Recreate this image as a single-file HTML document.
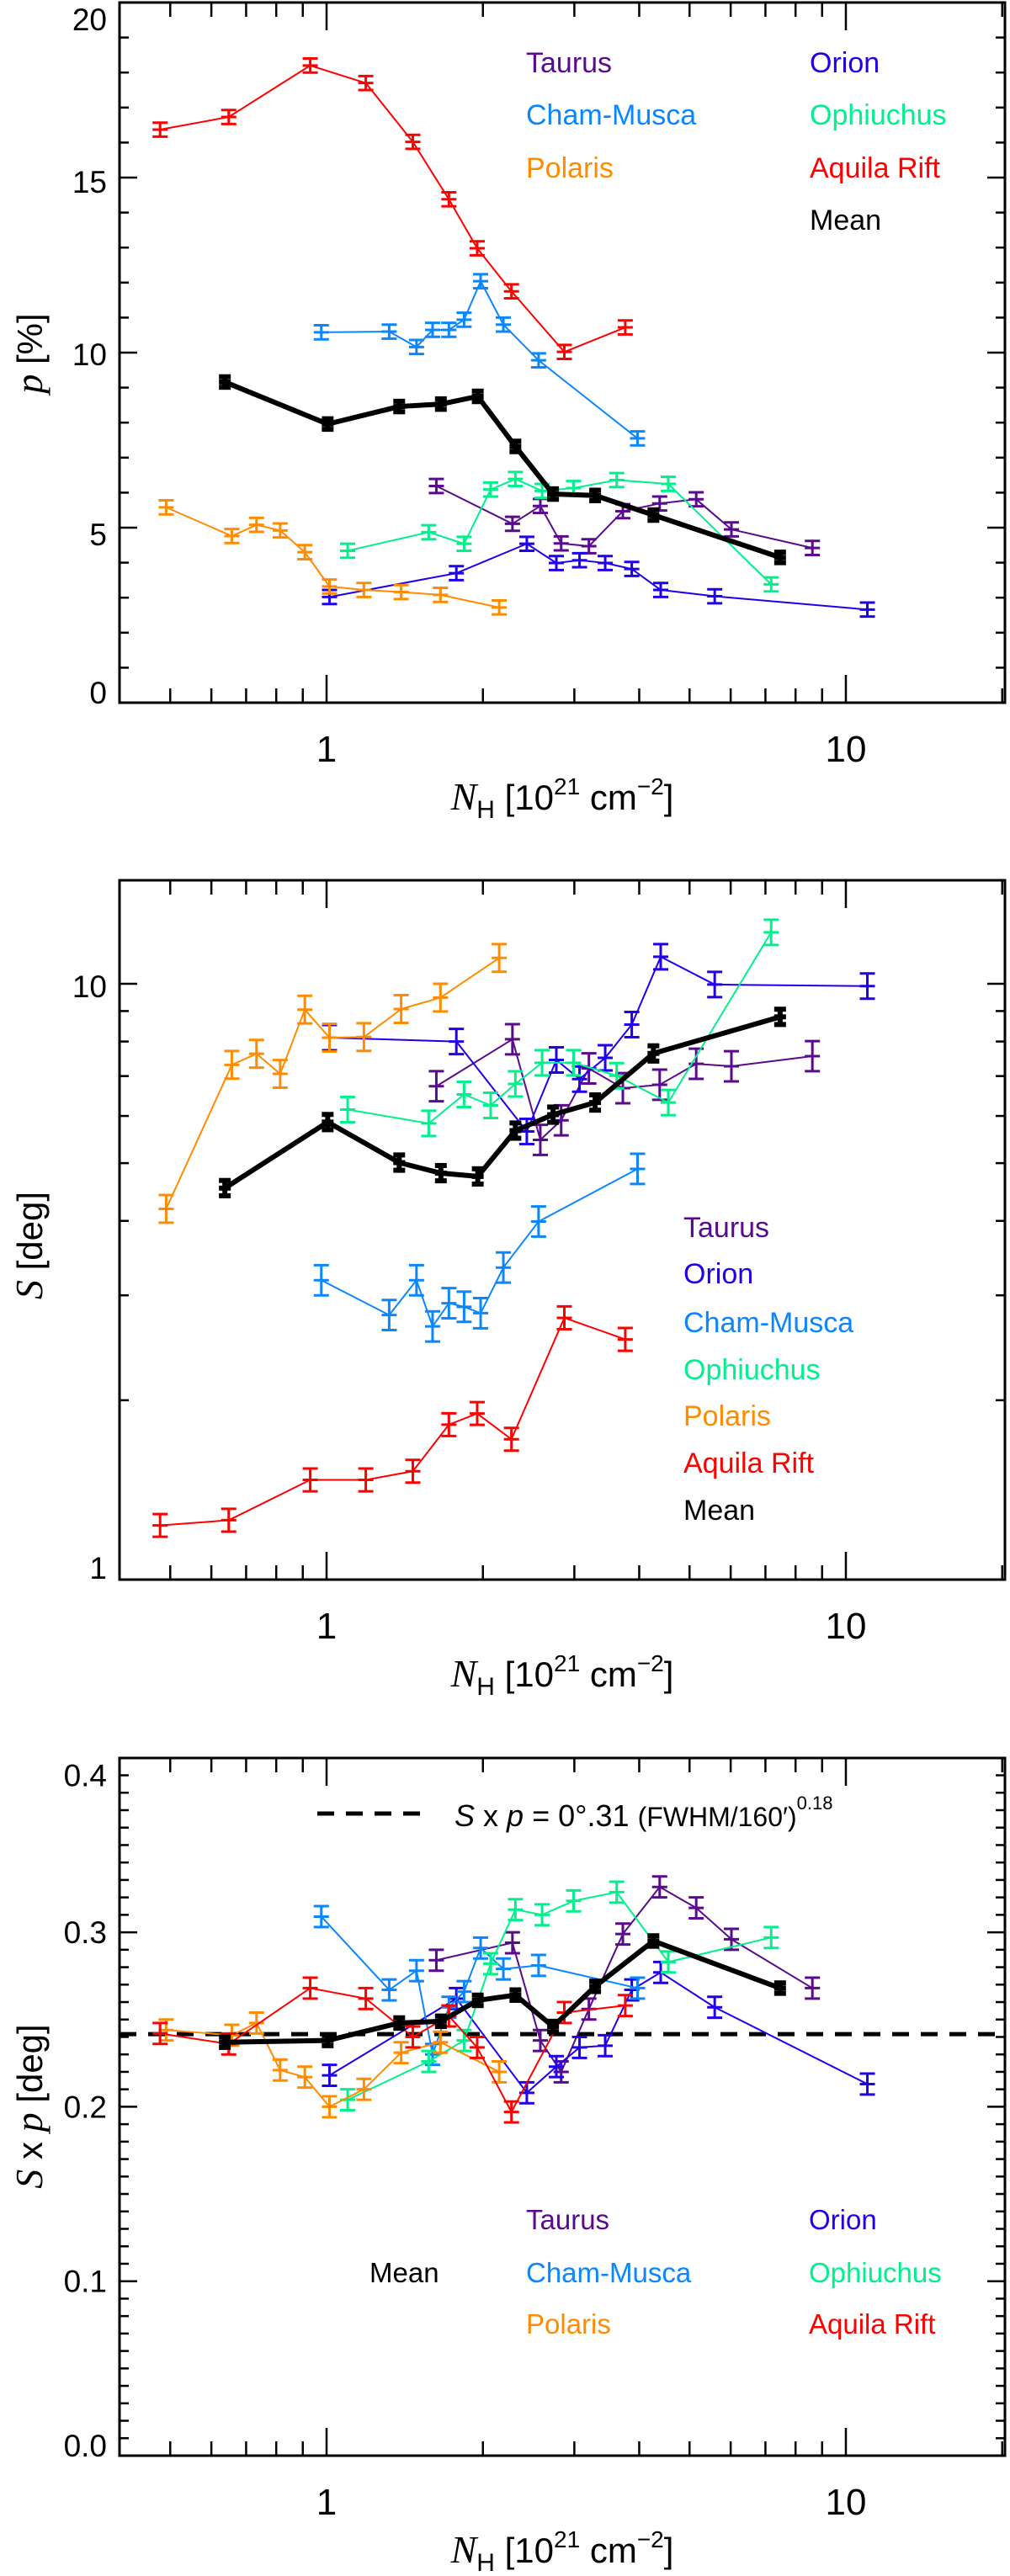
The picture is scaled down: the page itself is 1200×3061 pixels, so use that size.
<!DOCTYPE html>
<html><head><meta charset="utf-8">
<style>
html,body{margin:0;padding:0;background:#fff;}
svg{display:block;}
text{font-family:"Liberation Sans",Arial,sans-serif;}
</style></head>
<body>
<svg id="fig" width="1200" height="3061" viewBox="0 0 1200 3061" xmlns="http://www.w3.org/2000/svg"></svg>
<script>
// ---------- data ----------
const seriesNames = ["Taurus","Orion","Cham-Musca","Ophiuchus","Polaris","Aquila Rift","Mean"];
const seriesColors = ["#5a0a8c","#2000ea","#0a86ff","#00f08c","#ff8c00","#ff0000","#000000"];
// N_H [10^21 cm^-2] per series
const nhTaurus = [1.627,2.28,2.58,2.83,3.20,3.72,4.38,5.15,6.02,8.62];
const nhOrion  = [1.013,1.778,2.43,2.77,3.07,3.44,3.87,4.40,5.59,11.0];
const nhCham   = [0.977,1.32,1.49,1.60,1.72,1.84,1.98,2.19,2.56,3.97];
const nhOph    = [1.098,1.573,1.84,2.07,2.31,2.60,2.99,3.62,4.55,7.18];
const nhPol    = [0.491,0.657,0.733,0.814,0.908,1.013,1.18,1.392,1.657,2.15];
const nhAql    = [0.478,0.648,0.93,1.19,1.466,1.72,1.95,2.27,2.87,3.76];
const nhMean   = [0.637,1.005,1.38,1.66,1.955,2.31,2.73,3.29,4.26,7.47];
// panel 1: p [%]
const pTaurus = [6.19,5.11,5.62,4.55,4.47,5.47,5.69,5.81,4.95,4.42];
const pOrion  = [3.02,3.70,4.54,3.99,4.07,3.99,3.82,3.22,3.04,2.66];
const pCham   = [10.58,10.60,10.16,10.65,10.65,10.94,12.04,10.80,9.78,7.55];
const pOph    = [4.34,4.87,4.54,6.09,6.39,6.05,6.13,6.36,6.25,3.38];
const pPol    = [5.58,4.76,5.08,4.92,4.30,3.32,3.22,3.16,3.08,2.72];
const pAql    = [16.37,16.73,18.2,17.7,16.02,14.38,12.98,11.75,10.02,10.72];
const pMean   = [9.16,7.96,8.46,8.53,8.75,7.32,5.96,5.92,5.36,4.15];
// panel 2: S [deg]
const sTaurus = [6.73,8.07,5.47,5.90,7.21,6.68,6.77,7.34,7.27,7.56];
const sOrion  = [8.12,8.00,5.65,7.45,6.92,7.51,8.54,11.1,9.97,9.91];
const sCham   = [3.18,2.78,3.18,2.66,2.91,2.87,2.80,3.34,3.99,4.89];
const sOph    = [6.15,5.83,6.52,6.25,6.79,7.37,7.37,7.01,6.32,12.2];
const sPol    = [4.19,7.31,7.63,7.06,9.05,8.12,8.14,9.07,9.48,11.05];
const sAql    = [1.233,1.258,1.47,1.47,1.52,1.82,1.90,1.72,2.75,2.53];
const sMean   = [4.54,5.86,5.01,4.81,4.75,5.67,6.03,6.32,7.64,8.80];
// panel 3: S x p [deg]
const spTaurus = [0.284,0.294,0.238,0.220,0.256,0.299,0.326,0.314,0.296,0.268];
const spOrion  = [0.218,0.262,0.208,0.223,0.234,0.235,0.267,0.277,0.257,0.213];
const spCham   = [0.309,0.267,0.278,0.230,0.257,0.266,0.291,0.279,0.281,0.268];
const spOph    = [0.204,0.226,0.238,0.282,0.313,0.310,0.318,0.323,0.283,0.297];
const spPol    = [0.244,0.241,0.248,0.221,0.217,0.200,0.210,0.231,0.237,0.220];
const spAql    = [0.242,0.236,0.268,0.262,0.240,0.252,0.234,0.197,0.254,0.258];
const spMean   = [0.237,0.238,0.248,0.249,0.261,0.264,0.246,0.269,0.295,0.268];
const fitLevel = 0.2416;
// error sizes
const errP  = [0.2,0.2,0.2,0.2,0.2,0.2,0.15];
const errS  = [0.06,0.05,0.06,0.05,0.055,0.045,0.03];   // relative
const errSP = [0.006,0.006,0.006,0.006,0.006,0.006,0.003];
const xTickLabels = ["1","10"];

const nhAll = [nhTaurus,nhOrion,nhCham,nhOph,nhPol,nhAql,nhMean];
const p1 = [pTaurus,pOrion,pCham,pOph,pPol,pAql,pMean];
const p2 = [sTaurus,sOrion,sCham,sOph,sPol,sAql,sMean];
const p3 = [spTaurus,spOrion,spCham,spOph,spPol,spAql,spMean];

// ---------- helpers ----------
const NS="http://www.w3.org/2000/svg";
const svg=document.getElementById('fig');
function el(tag,attrs,parent){const e=document.createElementNS(NS,tag);for(const k in attrs)e.setAttribute(k,attrs[k]);(parent||svg).appendChild(e);return e;}
const XL=142,XR=1194;
function xpx(v){return 388+617*Math.log10(v);}

const panels=[
 {top:3,bot:835,y:v=>835-v*41.6,name:"p-panel"},
 {top:1046,bot:1877,y:v=>1877-708*Math.log10(v),name:"s-panel"},
 {top:2089,bot:2918,y:v=>2918-v*2073,name:"sp-panel"}
];

function frame(P,g){
  el('rect',{x:XL,y:P.top,width:XR-XL,height:P.bot-P.top,fill:'none',stroke:'#000','stroke-width':3},g);
  for(let d=-1;d<=1;d++){for(let m=1;m<=9;m++){const v=m*Math.pow(10,d);const x=xpx(v);if(x<XL+2||x>XR-2)continue;
    const L=(m===1)?33:17;
    el('line',{x1:x,y1:P.bot,x2:x,y2:P.bot-L,stroke:'#000','stroke-width':2.5},g);
    el('line',{x1:x,y1:P.top,x2:x,y2:P.top+L,stroke:'#000','stroke-width':2.5},g);}}
  xTickLabels.forEach(s=>{const t=el('text',{x:xpx(+s),y:P.bot+70,'font-size':44,'text-anchor':'middle'},g);t.textContent=s;
    
    });
  const t=el('text',{x:668,y:P.bot+127,'font-size':42,'text-anchor':'middle'},g);
  
  
  t.innerHTML='<tspan font-family="Liberation Serif" font-style="italic" font-size="46">N</tspan><tspan font-size="30" dy="10">H</tspan><tspan dy="-10"> [10</tspan><tspan font-size="28" dy="-18">21</tspan><tspan dy="18"> cm</tspan><tspan font-size="28" dy="-18">−2</tspan><tspan dy="18">]</tspan>';
}
function yTick(g,y,major){const L=major?21:11;
  el('line',{x1:XL,y1:y,x2:XL+L,y2:y,stroke:'#000','stroke-width':2.5},g);
  el('line',{x1:XR,y1:y,x2:XR-L,y2:y,stroke:'#000','stroke-width':2.5},g);}
function yLab(g,s,y){const t=el('text',{x:127,y:y+13,'font-size':37,'text-anchor':'end'},g);t.textContent=s;
  
  }
function yTitle(g,html,cy){const t=el('text',{x:0,y:0,'font-size':42,'text-anchor':'middle',transform:`translate(50,${cy}) rotate(-90)`},g);t.innerHTML=html;
  
  }

function series(P,g,vals,i,errFn){
  const c=seriesColors[i];const mean=(i===6);const xs=nhAll[i];
  const sg=el('g',{},g);
  
  
  const pts=vals.map((v,k)=>[xpx(xs[k]),P.y(v)]);
  el('polyline',{points:pts.map(p=>p.join(',')).join(' '),fill:'none',stroke:c,'stroke-width':mean?6:2,'stroke-linejoin':'round'},sg);
  vals.forEach((v,k)=>{const [lo,hi]=errFn(v,i);const x=pts[k][0];const y1=P.y(hi),y2=P.y(lo);const w=mean?7:9;const sw=mean?6:3;
    const pg=el('g',{},sg);
    
    
    el('line',{x1:x,y1:y1,x2:x,y2:y2,stroke:c,'stroke-width':sw},pg);
    el('line',{x1:x-w,y1:y1,x2:x+w,y2:y1,stroke:c,'stroke-width':sw},pg);
    el('line',{x1:x-w,y1:y2,x2:x+w,y2:y2,stroke:c,'stroke-width':sw},pg);
    el('line',{x1:x-w,y1:pts[k][1],x2:x+w,y2:pts[k][1],stroke:c,'stroke-width':sw},pg);
  });
}
function legend(g,i,x,y,fs){const t=el('text',{x:x,y:y,'font-size':fs,fill:seriesColors[i]},g);t.textContent=seriesNames[i];
  
  }

// ---------- panel 1 ----------
{const P=panels[0];const g=el('g',{});
 
 
 frame(P,g);
 for(let v=1;v<20;v++)yTick(g,P.y(v),v%5===0);
 yLab(g,"20",P.y(20)+20);yLab(g,"15",P.y(15)+5);yLab(g,"10",P.y(10)+2);yLab(g,"5",P.y(5)+8);yLab(g,"0",P.y(0)-12);
 yTitle(g,'<tspan font-family="Liberation Serif" font-style="italic" font-size="46">p</tspan> [%]',420);
 for(let i=0;i<7;i++)series(P,g,p1[i],i,(v,j)=>[v-errP[j],v+errP[j]]);
 legend(g,0,625,86,34);legend(g,2,625,148,34);legend(g,4,625,211,34);
 legend(g,1,962,86,34);legend(g,3,962,148,34);legend(g,5,962,211,34);legend(g,6,962,273,34);
}
// ---------- panel 2 ----------
{const P=panels[1];const g=el('g',{});
 
 
 frame(P,g);
 for(let m=2;m<=10;m++)yTick(g,P.y(m),m===10);
 yLab(g,"10",P.y(10)+3);yLab(g,"1",P.y(1)-14);
 yTitle(g,'<tspan font-family="Liberation Serif" font-style="italic" font-size="46">S</tspan> [deg]',1480);
 for(let i=0;i<7;i++)series(P,g,p2[i],i,(v,j)=>[v/(1+errS[j]),v*(1+errS[j])]);
 const ly=[1470,1525,1583,1639,1694,1750,1806];const order=[0,1,2,3,4,5,6];
 order.forEach((i,k)=>legend(g,i,812,ly[k],34));
}
// ---------- panel 3 ----------
{const P=panels[2];const g=el('g',{});
 
 
 frame(P,g);
 for(let k=1;k<=39;k++)yTick(g,P.y(k/100),k%10===0);
 yLab(g,"0.4",P.y(0.39));yLab(g,"0.3",P.y(0.3));yLab(g,"0.2",P.y(0.2));yLab(g,"0.1",P.y(0.1));yLab(g,"0.0",P.y(0)-12);
 yTitle(g,'<tspan font-family="Liberation Serif" font-style="italic" font-size="46">S</tspan> x <tspan font-family="Liberation Serif" font-style="italic" font-size="46">p</tspan> [deg]',2503);
 const fl=el('line',{x1:XL,y1:P.y(fitLevel),x2:XR,y2:P.y(fitLevel),stroke:'#000','stroke-width':5,'stroke-dasharray':'20,14'},g);
 
 
 for(let i=0;i<7;i++)series(P,g,p3[i],i,(v,j)=>[v-errSP[j],v+errSP[j]]);
 const ld=el('line',{x1:377,y1:2155,x2:500,y2:2155,stroke:'#000','stroke-width':5,'stroke-dasharray':'20,14'},g);
 
 
 const lt=el('text',{x:540,y:2170,'font-size':36,'font-family':'Liberation Serif'},g);
 
 
 lt.innerHTML='<tspan font-style="italic">S</tspan> x <tspan font-style="italic">p</tspan> = 0°.31 <tspan font-family="Liberation Sans" font-size="32">(FWHM/160′)</tspan><tspan font-size="22" dy="-20">0.18</tspan>';
 legend(g,0,625,2649,33);legend(g,2,625,2712,33);legend(g,4,625,2773,33);
 legend(g,1,961,2649,33);legend(g,3,961,2712,33);legend(g,5,961,2773,33);legend(g,6,439,2712,33);
}
</script>
</body></html>
